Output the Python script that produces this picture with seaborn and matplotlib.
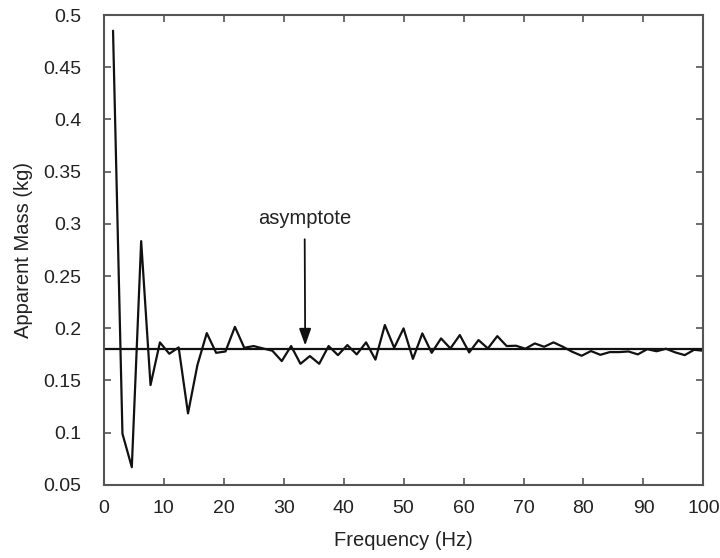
import numpy as np
import pandas as pd
import matplotlib
matplotlib.use("Agg")
import matplotlib.pyplot as plt
import seaborn as sns

# frequencies (Hz) and apparent mass (kg)
freq = [1.56, 3.13, 4.69, 6.25, 7.81, 9.38, 10.94, 12.50, 14.06, 15.63,
        17.19, 18.75, 20.31, 21.88, 23.44, 25.00, 26.56, 28.13, 29.69, 31.25,
        32.81, 34.38, 35.94, 37.50, 39.06, 40.63, 42.19, 43.75, 45.31, 46.88,
        48.44, 50.00, 51.56, 53.13, 54.69, 56.25, 57.81, 59.38, 60.94, 62.50,
        64.06, 65.63, 67.19, 68.75, 70.31, 71.88, 73.44, 75.00, 76.56, 78.13,
        79.69, 81.25, 82.81, 84.38, 85.94, 87.50, 89.06, 90.63, 92.19, 93.75,
        95.31, 96.88, 98.44, 100.00]
mass = [0.485, 0.099, 0.067, 0.2835, 0.1456, 0.1865, 0.1756, 0.1817, 0.1185, 0.1648,
        0.1954, 0.1765, 0.1778, 0.2014, 0.1813, 0.1830, 0.1807, 0.1785, 0.1686, 0.1830,
        0.1660, 0.1734, 0.1660, 0.1830, 0.1743, 0.1839, 0.1750, 0.1865, 0.1700, 0.2031,
        0.1813, 0.1999, 0.1707, 0.1951, 0.1765, 0.1903, 0.1807, 0.1935, 0.1769, 0.1887,
        0.1807, 0.1925, 0.1830, 0.1833, 0.1804, 0.1855, 0.1823, 0.1865, 0.1823, 0.1775,
        0.1737, 0.1782, 0.1746, 0.1772, 0.1772, 0.1778, 0.1750, 0.1800, 0.1780, 0.1804,
        0.1769, 0.1743, 0.1794, 0.1785]
asymptote = 0.18
asym_x = [0, 100]

x_ticks = list(range(0, 101, 10))
y_ticks = [0.05, 0.1, 0.15, 0.2, 0.25, 0.3, 0.35, 0.4, 0.45, 0.5]
y_labels = ["0.05", "0.1", "0.15", "0.2", "0.25", "0.3", "0.35", "0.4", "0.45", "0.5"]

sns.set_style("ticks")
plt.rcParams['font.family'] = ['Liberation Sans', 'DejaVu Sans']

df = pd.DataFrame({"Frequency (Hz)": freq, "Apparent Mass (kg)": mass})

fig = plt.figure(figsize=(7.2, 5.58), dpi=100)
ax = fig.add_axes([0.144, 0.131, 0.833, 0.842])

sns.lineplot(data=df, x="Frequency (Hz)", y="Apparent Mass (kg)", ax=ax,
             color="#111111", linewidth=1.6)
sns.lineplot(x=asym_x, y=[asymptote, asymptote], ax=ax, color="#111111",
             linewidth=1.6)

ax.set_xlim(0, 100)
ax.set_ylim(0.05, 0.5)
ax.set_xticks(x_ticks)
ax.set_yticks(y_ticks)
ax.set_yticklabels(y_labels)
ax.tick_params(direction="in", top=True, right=True, labelsize=14,
               length=5, width=1.2, color="#555555", labelcolor="#222222")
ax.tick_params(axis="x", pad=11)
ax.tick_params(axis="y", pad=16)
for sp in ax.spines.values():
    sp.set_color("#555555")
    sp.set_linewidth(1.5)
ax.set_xlabel("Frequency (Hz)", fontsize=14.5, color="#222222")
ax.set_ylabel("Apparent Mass (kg)", fontsize=14.5, color="#222222")
ax.xaxis.set_label_coords(0.5, -0.098)
ax.yaxis.set_label_coords(-0.1175, 0.5)

ax.annotate("asymptote", xy=(33.6, 0.1835), xytext=(33.5, 0.3055),
            ha="center", va="center", fontsize=14.5, color="#222222",
            arrowprops=dict(arrowstyle="-|>,head_length=0.7,head_width=0.25",
                            color="#111111", lw=1.3, shrinkA=6, shrinkB=0))

fig.savefig("out.png", dpi=100)
